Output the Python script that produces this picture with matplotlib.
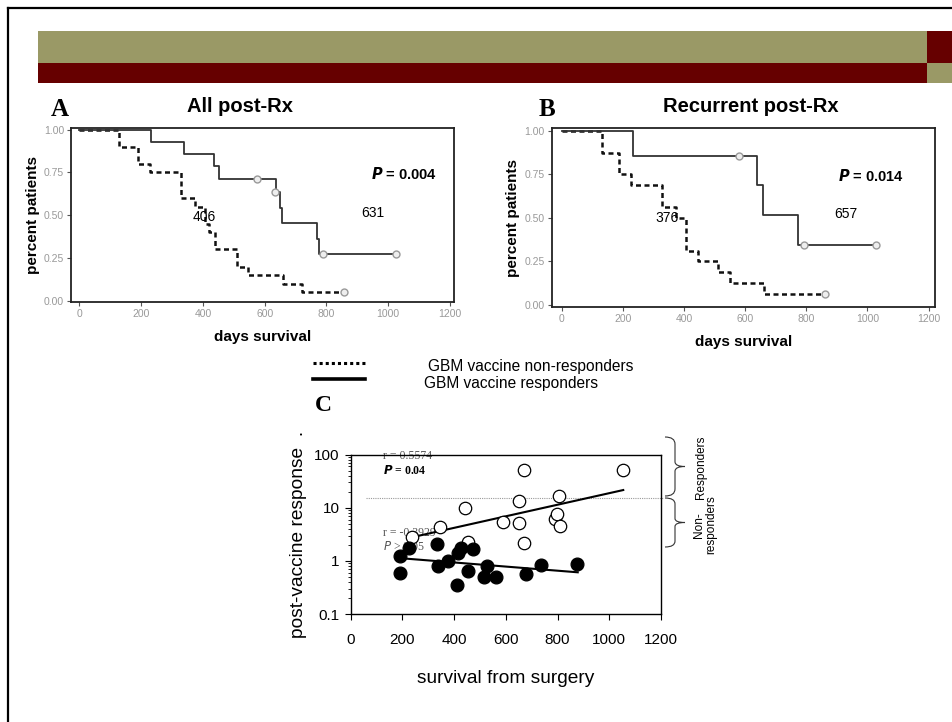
import matplotlib
matplotlib.use("Agg")
import matplotlib.pyplot as plt
from matplotlib.patches import Rectangle, PathPatch
from matplotlib.path import Path
from matplotlib.lines import Line2D

plt.rcParams['font.family'] = ['Liberation Sans', 'DejaVu Sans']

# ---------------- data ----------------
# Panel A: all post-Rx (Kaplan-Meier)
a_resp_t = [0, 232, 339, 436, 452, 636, 650, 656, 770, 776, 1024]
a_resp_s = [1.0, 0.929, 0.857, 0.786, 0.714, 0.635, 0.544, 0.453, 0.363, 0.272, 0.272]
a_resp_cens_t = [576, 633, 790, 1024]
a_resp_cens_s = [0.714, 0.635, 0.272, 0.272]

a_non_t = [0, 130, 190, 228, 330, 375, 406, 420, 440, 510, 545, 660, 720, 858]
a_non_s = [1.0, 0.90, 0.80, 0.75, 0.60, 0.55, 0.45, 0.40, 0.30, 0.20, 0.15, 0.10, 0.05, 0.05]
a_non_cens_t = [858]
a_non_cens_s = [0.05]

# Panel B: recurrent post-Rx
b_resp_t = [0, 234, 638, 658, 774, 1028]
b_resp_s = [1.0, 0.857, 0.686, 0.514, 0.343, 0.343]
b_resp_cens_t = [580, 791, 1028]
b_resp_cens_s = [0.857, 0.343, 0.343]

b_non_t = [0, 131, 187, 226, 329, 373, 408, 445, 512, 550, 662, 862]
b_non_s = [1.0, 0.875, 0.75, 0.6875, 0.5625, 0.5, 0.3125, 0.25, 0.1875, 0.125, 0.0625, 0.0625]
b_non_cens_t = [862]
b_non_cens_s = [0.0625]

km_xticks = [0, 200, 400, 600, 800, 1000, 1200]
km_yticks = [0.0, 0.25, 0.50, 0.75, 1.00]
km_ytick_labels = ["0.00", "0.25", "0.50", "0.75", "1.00"]

# Panel C: post-vaccine response vs survival
resp_x = [236, 345, 442, 455, 590, 650, 650, 670, 670, 790, 797, 807, 809, 1052]
resp_y = [2.86, 4.3, 9.8, 2.3, 5.3, 13.6, 5.2, 51.5, 2.14, 6.07, 7.6, 16.9, 4.5, 51.5]
non_x = [191, 191, 225, 332, 336, 377, 412, 416, 425, 452, 472, 517, 526, 561, 678, 735, 874]
non_y = [1.24, 0.60, 1.73, 2.05, 0.80, 1.01, 0.35, 1.43, 1.73, 0.65, 1.67, 0.49, 0.80, 0.50, 0.56, 0.84, 0.87]
resp_fit_x = [236, 1054]
resp_fit_y = [2.78, 21.6]
non_fit_x = [197, 878]
non_fit_y = [1.12, 0.61]
threshold_y = 15
threshold_x = [59, 1208]
c_xticks = [0, 200, 400, 600, 800, 1000, 1200]
c_yticks = [0.1, 1, 10, 100]
c_ytick_labels = ["0.1", "1", "10", "100"]

# ---------------- figure ----------------
W, H = 952, 722
fig = plt.figure(figsize=(W / 100, H / 100), dpi=100)
fig.patch.set_facecolor('white')


def fx(px):
    return px / W


def fy(py):
    return 1 - py / H


def ax_rect(l, t, r, b):
    return [fx(l), fy(b), (r - l) / W, (b - t) / H]


# slide frame
fig.add_artist(Line2D([fx(8), fx(952)], [fy(8), fy(8)], color='black', lw=1.6))
fig.add_artist(Line2D([fx(8), fx(8)], [fy(8), fy(722)], color='black', lw=1.6))

olive = '#9a9966'
dred = '#660000'
fig.add_artist(Rectangle((fx(38), fy(62.7)), (927 - 38) / W, 31.7 / H, transform=fig.transFigure,
                         color=olive, lw=0))
fig.add_artist(Rectangle((fx(38), fy(82.7)), (927 - 38) / W, 20 / H, transform=fig.transFigure,
                         color=dred, lw=0))
fig.add_artist(Rectangle((fx(927), fy(62.7)), 25 / W, 31.7 / H, transform=fig.transFigure,
                         color=dred, lw=0))
fig.add_artist(Rectangle((fx(927), fy(82.7)), 25 / W, 20 / H, transform=fig.transFigure,
                         color=olive, lw=0))


def km_axes(rect, xlim, ylim, resp, non, title, letter, letter_x, title_x, ptxt, px_, med_r, med_n):
    ax = fig.add_axes(rect)
    rt, rs, rct, rcs = resp
    nt, ns, nct, ncs = non
    ax.step(nt, ns, where='post', color='#111111', lw=1.8, linestyle=(0, (2.0, 1.4)), zorder=3)
    ax.step(rt, rs, where='post', color='#333333', lw=1.3, zorder=3)
    ax.plot(rct, rcs, 'o', ms=5, mfc='#eeeeee', mec='#999999', mew=1.0, zorder=4)
    ax.plot(nct, ncs, 'o', ms=5, mfc='#eeeeee', mec='#999999', mew=1.0, zorder=4)
    ax.set_xlim(*xlim)
    ax.set_ylim(*ylim)
    ax.set_xticks(km_xticks)
    ax.set_xticklabels([str(v) for v in km_xticks])
    ax.set_yticks(km_yticks)
    ax.set_yticklabels(km_ytick_labels)
    ax.tick_params(labelsize=7.5, labelcolor='#999999', color='#555555', length=3, width=0.8, pad=2)
    for s in ax.spines.values():
        s.set_linewidth(1.3)
        s.set_color('#222222')
    ax.set_xlabel('days survival', fontsize=11, fontweight='bold', labelpad=8)
    ax.set_ylabel('percent patients', fontsize=11, fontweight='bold', labelpad=3)
    ax.text(px_[0], px_[1], ptxt, fontsize=10.5, fontweight='bold', ha='left', va='center',
            transform=ax.transData)
    ax.text(med_r[0], med_r[1], med_r[2], fontsize=10, ha='center', va='center')
    ax.text(med_n[0], med_n[1], med_n[2], fontsize=10, ha='center', va='center', zorder=5)
    fig.text(fx(title_x), fy(107), title, fontsize=14.5, fontweight='bold', ha='center', va='center')
    fig.text(fx(letter_x), fy(110), letter, fontsize=18, fontweight='bold', ha='center', va='center',
             family='Liberation Serif')
    return ax


axA = km_axes(ax_rect(71, 128, 454, 302), (-27, 1213), (-0.0076, 1.01),
              (a_resp_t, a_resp_s, a_resp_cens_t, a_resp_cens_s),
              (a_non_t, a_non_s, a_non_cens_t, a_non_cens_s),
              'All post-Rx', 'A', 60, 240, r'$\bfit{P}$ = 0.004', (945, 0.74),
              (950, 0.51, '631'), (405, 0.49, '406'))

axB = km_axes(ax_rect(551.7, 128.3, 935.3, 307), (-33, 1222), (-0.0115, 1.014),
              (b_resp_t, b_resp_s, b_resp_cens_t, b_resp_cens_s),
              (b_non_t, b_non_s, b_non_cens_t, b_non_cens_s),
              'Recurrent post-Rx', 'B', 547, 751, r'$\bfit{P}$ = 0.014', (905, 0.74),
              (930, 0.52, '657'), (345, 0.50, '376'))

# legend (manual)
fig.add_artist(Line2D([fx(313), fx(365)], [fy(363), fy(363)], color='black', lw=2.2,
                      linestyle=(0, (1, 1))))
fig.add_artist(Line2D([fx(313), fx(365)], [fy(379), fy(379)], color='black', lw=2.6))
fig.text(fx(428), fy(366), 'GBM vaccine non-responders', fontsize=11.2, ha='left', va='center')
fig.text(fx(424), fy(383), 'GBM vaccine responders', fontsize=11.2, ha='left', va='center')
fig.text(fx(323), fy(406), 'C', fontsize=17, fontweight='bold', ha='center', va='center',
         family='Liberation Serif')

# Panel C
axC = fig.add_axes(ax_rect(350.7, 454.7, 661, 614))
axC.set_yscale('log')
axC.set_xlim(0, 1200)
axC.set_ylim(0.1, 100)
axC.text(125, 94, 'r = 0.5574', family='Liberation Serif', fontsize=8.5, color='#555555',
         ha='left', va='center', zorder=1)
axC.text(125, 51, r'$\bfit{P}$ = 0.04', family='Liberation Serif', fontsize=8.5, fontweight='bold',
         ha='left', va='center', zorder=1)
axC.text(125, 3.35, 'r = -0.3929', family='Liberation Serif', fontsize=8.5, color='#555555',
         ha='left', va='center', zorder=1)
axC.text(125, 1.85, r'$\it{P}$ > 0.05', family='Liberation Serif', fontsize=8.5, color='#555555',
         ha='left', va='center', zorder=1)
axC.plot(threshold_x, [threshold_y, threshold_y], color='#999999', lw=0.8, linestyle=(0, (1, 1)),
         clip_on=False, zorder=2)
axC.plot(resp_fit_x, resp_fit_y, color='black', lw=1.5, zorder=3)
axC.plot(non_fit_x, non_fit_y, color='black', lw=1.5, zorder=3)
axC.scatter(resp_x, resp_y, s=80, facecolors='white', edgecolors='black', linewidths=0.9, zorder=4)
axC.scatter(non_x, non_y, s=85, facecolors='black', edgecolors='black', linewidths=0.9, zorder=4)
axC.set_xticks(c_xticks)
axC.set_xticklabels([str(v) for v in c_xticks])
axC.set_yticks(c_yticks)
axC.set_yticklabels(c_ytick_labels)
axC.tick_params(which='major', labelsize=11, length=4, width=0.8, pad=10)
axC.tick_params(axis='y', which='minor', length=2.5, width=0.6)
axC.tick_params(axis='y', pad=4)
for s in axC.spines.values():
    s.set_linewidth(1.0)
axC.set_xlabel('survival from surgery', fontsize=13.8, labelpad=16)
axC.set_ylabel('post-vaccine response  .', fontsize=13.8, labelpad=5)


# braces
def brace(x0, x1, xt, y0, y1):
    ym = (y0 + y1) / 2
    h = y1 - y0
    pts = [
        (x0, y0),
        (x1, y0), (x1, y0 + 0.12 * h),
        (x1, ym - 0.08 * h),
        (x1, ym), (xt, ym),
        (x1, ym), (x1, ym + 0.08 * h),
        (x1, y1 - 0.12 * h),
        (x1, y1), (x0, y1),
    ]
    codes = [Path.MOVETO,
             Path.CURVE3, Path.CURVE3,
             Path.LINETO,
             Path.CURVE3, Path.CURVE3,
             Path.CURVE3, Path.CURVE3,
             Path.LINETO,
             Path.CURVE3, Path.CURVE3]
    verts = [(fx(a), fy(b)) for a, b in pts]
    fig.add_artist(PathPatch(Path(verts, codes), transform=fig.transFigure, fill=False,
                             lw=0.8, edgecolor='#333333'))


brace(665, 675, 685, 437, 496)
brace(665, 675, 685, 498, 547)
fig.text(fx(701), fy(467), 'Responders', rotation=90, fontsize=8.5, ha='center', va='center')
fig.text(fx(705), fy(525), 'Non-\nresponders', rotation=90, fontsize=8.5, ha='center', va='center',
         multialignment='center', linespacing=1.0)

fig.savefig('out.png', dpi=100, facecolor='white')
